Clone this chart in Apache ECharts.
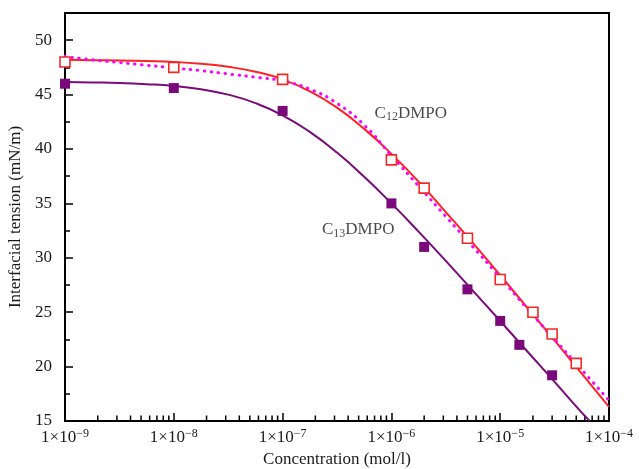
<!DOCTYPE html>
<html>
<head>
<meta charset="utf-8">
<script src="https://cdn.jsdelivr.net/npm/echarts@6/dist/echarts.min.js"></script>
<style>html,body{margin:0;padding:0;background:#fff}#c{width:639px;height:469px}</style>
</head>
<body>
<div id="c"></div>
<script>
// ---- data ----
var c12X = [1e-9, 1e-8, 1e-7, 1e-6, 2e-6, 5e-6, 1e-5, 2e-5, 3e-5, 5e-5];
var c12Y = [48.0, 47.5, 46.4, 39.0, 36.4, 31.8, 28.0, 25.0, 23.0, 20.3];
var c13X = [1e-9, 1e-8, 1e-7, 1e-6, 2e-6, 5e-6, 1e-5, 1.5e-5, 3e-5];
var c13Y = [46.0, 45.6, 43.5, 35.0, 31.0, 27.1, 24.2, 22.0, 19.2];
// fitted curves, read every quarter decade (exponent of 10)
var curveExp = [-9, -8.75, -8.5, -8.25, -8, -7.75, -7.5, -7.25, -7, -6.75, -6.5, -6.25, -6, -5.75, -5.5, -5.25, -5, -4.75, -4.5, -4.25, -4];
var fitC12Y = [48.2, 48.16, 48.13, 48.08, 48.0, 47.83, 47.55, 47.1, 46.4, 45.3, 43.8, 41.85, 39.55, 37.0, 34.2, 31.35, 28.4, 25.4, 22.4, 19.35, 16.3];
var dotC12Y = [48.5, 48.2, 47.95, 47.7, 47.45, 47.2, 46.9, 46.6, 46.25, 45.5, 44.2, 42.2, 39.4, 36.6, 33.8, 31.0, 28.2, 25.3, 22.5, 19.7, 16.9];
var fitC13Exp = [-9, -8.75, -8.5, -8.25, -8, -7.75, -7.5, -7.25, -7, -6.75, -6.5, -6.25, -6, -5.75, -5.5, -5.25, -5, -4.75, -4.5, -4.25, -4.177];
var fitC13Y = [46.16, 46.12, 46.07, 45.96, 45.79, 45.49, 45.0, 44.22, 43.1, 41.57, 39.67, 37.44, 35.0, 32.41, 29.72, 26.96, 24.19, 21.39, 18.59, 15.77, 15.0];
var labels = [
  {sub: '12', x: 7.0e-7, y: 43.3},
  {sub: '13', x: 2.3e-7, y: 32.6}
];

function zip(xs, ys) { return xs.map(function (x, i) { return [x, ys[i]]; }); }
function zipExp(es, ys) { return es.map(function (e, i) { return [Math.pow(10, e), ys[i]]; }); }

// minor tick positions on the log axis (2..9 x 10^k)
var minorX = [];
for (var k = -9; k < -4; k++) {
  for (var m = 2; m <= 9; m++) minorX.push([m * Math.pow(10, k), 15]);
}

var FONT = 'Liberation Serif';
var TXT = '#1a1a1a';

var chart = echarts.init(document.getElementById('c'), null, {renderer: 'canvas'});
chart.setOption({
  backgroundColor: '#fff',
  animation: false,
  textStyle: {fontFamily: FONT},
  grid: {left: 65, right: 30, top: 13, bottom: 48, outerBoundsMode: 'none', containLabel: false,
         show: true, borderColor: '#000', borderWidth: 2, backgroundColor: 'transparent'},
  xAxis: {
    type: 'log', logBase: 10, min: 1e-9, max: 1e-4,
    name: 'Concentration (mol/l)', nameLocation: 'middle', nameGap: 30, nameMoveOverlap: false,
    nameTextStyle: {fontFamily: FONT, fontSize: 17, color: TXT},
    axisLine: {lineStyle: {color: '#000', width: 2}},
    axisTick: {inside: true, length: 8, lineStyle: {color: '#000', width: 1.5}},
    splitLine: {show: false},
    axisLabel: {
      margin: 7, color: TXT,
      formatter: function (v) {
        var e = Math.round(Math.log10(v));
        return '{a|1\u00d710}{b|\u2212' + Math.abs(e) + '}';
      },
      rich: {
        a: {fontFamily: FONT, fontSize: 17, color: TXT, lineHeight: 20},
        b: {fontFamily: FONT, fontSize: 12, color: TXT, verticalAlign: 'top', lineHeight: 20, padding: [0, 0, 10, 0]}
      }
    }
  },
  yAxis: {
    type: 'value', min: 15, max: 52.5, interval: 5,
    name: 'Interfacial tension (mN/m)', nameLocation: 'middle', nameGap: 39,
    nameTextStyle: {fontFamily: FONT, fontSize: 17, color: TXT},
    axisLine: {lineStyle: {color: '#000', width: 2}},
    axisTick: {inside: true, length: 8, lineStyle: {color: '#000', width: 1.5}},
    minorTick: {show: true, splitNumber: 2, length: 5, lineStyle: {color: '#000', width: 1.5}},
    splitLine: {show: false},
    axisLabel: {fontFamily: FONT, fontSize: 17, color: TXT, margin: 13, showMaxLabel: false}
  },
  series: [
    {
      name: 'minorTicks', type: 'scatter', data: minorX, symbol: 'rect', symbolSize: [1.5, 5], symbolOffset: [0, -3],
      itemStyle: {color: '#000', opacity: 1}, silent: true, clip: false, z: 1
    },
    {
      name: 'C12 fit', type: 'line', data: zipExp(curveExp, fitC12Y), smooth: 0.5, showSymbol: false,
      lineStyle: {color: '#ff2222', width: 2}, z: 2
    },
    {
      name: 'C12 fit 2', type: 'line', data: zipExp(curveExp, dotC12Y), smooth: 0.5, showSymbol: false,
      lineStyle: {color: '#ff00ff', width: 3, type: [0.5, 6.5], cap: 'round'}, z: 3
    },
    {
      name: 'C13 fit', type: 'line', data: zipExp(fitC13Exp, fitC13Y), smooth: 0.5, showSymbol: false,
      lineStyle: {color: '#7a0a7a', width: 2}, z: 2
    },
    {
      name: 'C12DMPO', type: 'scatter', data: zip(c12X, c12Y), symbol: 'rect', symbolSize: 10, clip: false,
      itemStyle: {color: '#fff', borderColor: '#f02828', borderWidth: 1.6, opacity: 1}, z: 5
    },
    {
      name: 'C13DMPO', type: 'scatter', data: zip(c13X, c13Y), symbol: 'rect', symbolSize: 10, clip: false,
      itemStyle: {color: '#7a0a7a', opacity: 1}, z: 5
    },
    {
      name: 'labels', type: 'scatter', symbolSize: 0, silent: true, z: 6,
      data: labels.map(function (l) { return [l.x, l.y]; }),
      label: {
        show: true, position: 'right', distance: 0,
        formatter: function (p) {
          return '{n|C}{s|' + labels[p.dataIndex].sub + '}{n|DMPO}';
        },
        rich: {
          n: {fontFamily: FONT, fontSize: 17, color: TXT, lineHeight: 20},
          s: {fontFamily: FONT, fontSize: 12, color: TXT, verticalAlign: 'bottom', lineHeight: 20, padding: [8, 0, 0, 0]}
        }
      }
    }
  ]
});
</script>
</body>
</html>
